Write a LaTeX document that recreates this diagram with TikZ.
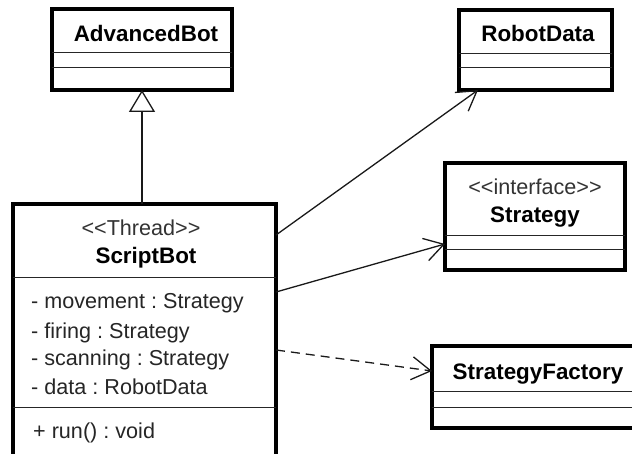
\documentclass[tikz,border=0pt]{standalone}
\usepackage{fontspec}
\newfontfamily\umlfont{Liberation Sans}
\usetikzlibrary{arrows.meta}
\frenchspacing

\tikzset{
  classbox/.style={draw=black, line width=3.2pt, fill=white, inner sep=0pt, outer sep=0pt, anchor=north west},
  divider/.style={draw=black!85, line width=1pt},
  title/.style={font=\umlfont\fontsize{22.4}{26}\selectfont\bfseries, inner sep=0pt, anchor=base},
  stereo/.style={font=\umlfont\fontsize{21.6}{26}\selectfont, text=black!80, inner sep=0pt, anchor=base},
  member/.style={font=\umlfont\fontsize{21.6}{26}\selectfont, text=black!85, inner sep=0pt, anchor=base west},
  link/.style={draw=black!90, line width=1.3pt},
  openarrow/.style={-{Straight Barb[length=19pt,width=23pt]}},
  inherit/.style={-{Triangle[open,length=22pt,width=26pt,fill=white]}},
}

\begin{document}
\begin{tikzpicture}[x=1pt,y=-1pt]
\useasboundingbox (0,0) rectangle (632,454);
\clip (0,0) rectangle (632,454);

% AdvancedBot
\node[classbox, minimum width=180pt, minimum height=81pt] (ab) at (52,9) {};
\node[title] (abt) at (146,42) {AdvancedBot};
\draw[divider] (52,53) -- (232,53);
\draw[divider] (52,68) -- (232,68);

% RobotData
\node[classbox, minimum width=153pt, minimum height=80pt] (rd) at (459,10) {};
\node[title] (rdt) at (538,42) {RobotData};
\draw[divider] (459,54) -- (612,54);
\draw[divider] (459,68) -- (612,68);

% Strategy interface
\node[classbox, minimum width=180pt, minimum height=107pt] (st) at (445,163) {};
\node[stereo] (sts) at (535,195) {<<interface>>};
\node[title] (stt) at (535,223) {Strategy};
\draw[divider] (445,236) -- (625,236);
\draw[divider] (445,250) -- (625,250);

% StrategyFactory
\node[classbox, minimum width=212pt, minimum height=82pt] (sf) at (432,346) {};
\node[title] (sft) at (538,380) {StrategyFactory};
\draw[divider] (432,391) -- (644,391);
\draw[divider] (432,407) -- (644,407);

% ScriptBot
\node[classbox, minimum width=263pt, minimum height=270pt] (sb) at (13,204) {};
\node[stereo] (sbs) at (141,236) {<<Thread>>};
\node[title] (sbt) at (146,264) {ScriptBot};
\draw[divider] (13,278) -- (276,278);
\node[member] (a1) at (31,309) {- movement : Strategy};
\node[member] (a2) at (31,338) {- firing : Strategy};
\node[member] (a3) at (31,366) {- scanning : Strategy};
\node[member] (a4) at (31,394) {- data : RobotData};
\draw[divider] (13,407) -- (276,407);
\node[member] (m1) at (33,438) {+ run() : void};

% connectors
\draw[link, inherit] (sb.north -| ab.south) -- (ab.south);
\draw[link, openarrow] ([yshift=-31pt]sb.north east) -- ([xshift=19pt]rd.south west);
\draw[link, openarrow] ([yshift=-88pt]sb.north east) -- ([yshift=26pt]st.south west);
\draw[link, openarrow, dash pattern=on 9pt off 6pt] ([yshift=-146pt]sb.north east) -- ([yshift=-25pt]sf.north west);
\end{tikzpicture}
\end{document}
